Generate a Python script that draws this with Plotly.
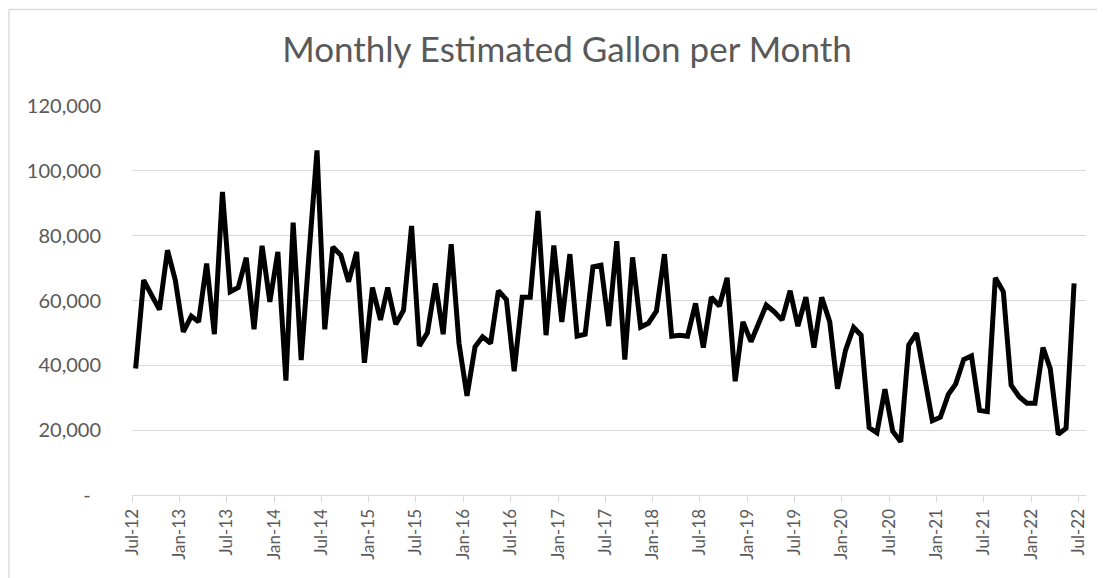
import plotly.graph_objects as go
import pandas as pd

# Monthly values (gallons), Jul-2012 .. Jun-2022 (plotted mid-month)
months = pd.date_range("2012-07-01", periods=120, freq="MS") + pd.Timedelta(days=14)
gallons = [
    39000, 66300, 61600, 57200, 75500, 66300, 50300, 55200, 53400, 71400, 49600, 93500,
    62700, 64000, 73200, 51100, 76900, 59600, 75000, 35300, 84000, 41600, 74000, 106300,
    51100, 76500, 74000, 65800, 75000, 40800, 64000, 54000, 64000, 52700, 57000, 83000,
    46000, 50000, 65300, 49600, 77400, 46800, 30600, 45700, 48800, 46800, 63000, 60300,
    38200, 61000, 61000, 87600, 49300, 77000, 53400, 74300, 49000, 49600, 70400, 70900,
    52100, 78300, 41800, 73300, 51800, 53000, 56700, 74300, 49000, 49300, 49000, 59100,
    45500, 61000, 58300, 67000, 35100, 53400, 47300, 53000, 58600, 56500, 54000, 63000,
    52100, 61000, 45500, 61000, 53400, 32800, 44700, 51700, 49300, 20800, 19200, 32600,
    19700, 16400, 46300, 49900, 36000, 22900, 24000, 31100, 34200, 41800, 42900, 26100,
    25700, 67000, 62700, 33900, 30300, 28300, 28300, 45500, 39000, 18700, 20600, 65300,
]
y_ticks = [0, 20000, 40000, 60000, 80000, 100000, 120000]
y_tick_text = ["-\u00a0\u00a0", "20,000", "40,000", "60,000", "80,000", "100,000", "120,000"]
title_text = "Monthly Estimated Gallon per Month"

grey = "#595959"
grid = "#d9d9d9"

# The page body adds an 8px offset; layout below is compensated for it.
L, T, R_EDGE, B_EDGE = 123.7, 97.7, 1078.0, 487.5
PW, PH = R_EDGE - L, B_EDGE - T

fig = go.Figure()
fig.add_trace(go.Scatter(
    x=months, y=gallons, mode="lines",
    line=dict(color="black", width=5),
    showlegend=False, hoverinfo="x+y",
))

fig.update_layout(
    width=1105, height=578,
    margin=dict(l=L, r=1105 - R_EDGE, t=T, b=578 - B_EDGE),
    paper_bgcolor="white", plot_bgcolor="white",
    font=dict(family="Lato, 'Open Sans', sans-serif", color=grey),
    title=dict(text=title_text, x=559 / 1105, xanchor="center", xref="container",
               y=1 - 42 / 578, yanchor="middle", yref="container",
               font=dict(size=35, color=grey, family="Lato")),
    xaxis=dict(
        type="date",
        range=["2012-07-01", "2022-07-31"],
        tick0="2012-07-01", dtick="M6", tickformat="%b-%y",
        tickangle=-90,
        tickfont=dict(size=17, color=grey),
        showgrid=False,
        showline=True, linecolor=grid, linewidth=1.3,
        ticks="outside", tickcolor=grid, ticklen=6, tickwidth=1.3,
        zeroline=False, automargin=False,
    ),
    yaxis=dict(
        range=[0, 120000],
        tickvals=y_ticks, ticktext=y_tick_text,
        tickfont=dict(size=20, color=grey),
        showgrid=True, gridcolor=grid, gridwidth=1.3,
        showline=False, zeroline=False,
        ticks="", ticklabelstandoff=30, automargin=False,
    ),
    shapes=[dict(type="rect", xref="paper", yref="paper",
                 x0=(0.7 - L) / PW, x1=(1200 - L) / PW,
                 y0=-(700 - B_EDGE) / PH, y1=1 + (T - 1) / PH,
                 line=dict(color=grid, width=1.3), layer="below")],
)

fig.write_html("out.html")
